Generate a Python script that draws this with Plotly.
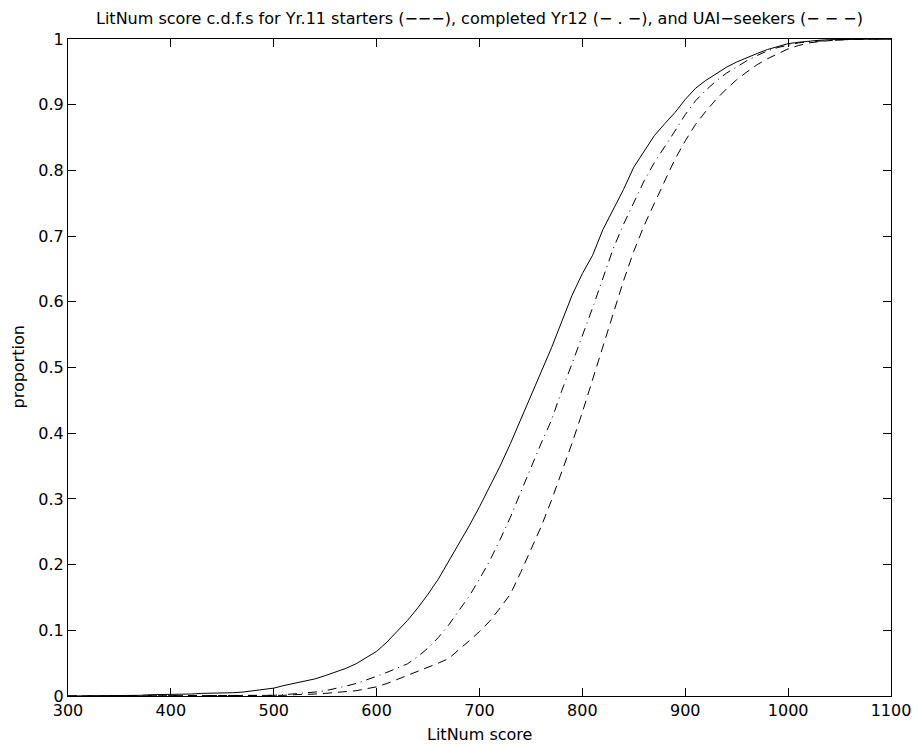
import plotly.graph_objects as go

scores = list(range(300, 1101, 10))

yr11_starters = [
    0.000, 0.000, 0.000, 0.001, 0.001, 0.001, 0.001, 0.001, 0.002, 0.002,  # 300-390
    0.002, 0.003, 0.003, 0.004, 0.004, 0.005, 0.005, 0.006, 0.008, 0.010,  # 400-490
    0.012, 0.016, 0.019, 0.022, 0.026, 0.031, 0.036, 0.042, 0.049, 0.058,  # 500-590
    0.068, 0.082, 0.098, 0.115, 0.134, 0.155, 0.178, 0.205, 0.231, 0.259,  # 600-690
    0.288, 0.318, 0.350, 0.384, 0.420, 0.456, 0.492, 0.530, 0.570, 0.610,  # 700-790
    0.643, 0.671, 0.710, 0.740, 0.771, 0.805, 0.830, 0.853, 0.871, 0.888,  # 800-890
    0.908, 0.925, 0.937, 0.947, 0.957, 0.965, 0.972, 0.978, 0.984, 0.989,  # 900-990
    0.993, 0.995, 0.997, 0.998, 0.999, 0.999, 1.000, 1.000, 1.000, 1.000,  # 1000-1090
    1.000,
]

completed_yr12 = [
    0.000, 0.000, 0.000, 0.000, 0.000, 0.000, 0.000, 0.000, 0.000, 0.000,  # 300-390
    0.000, 0.000, 0.000, 0.000, 0.000, 0.000, 0.000, 0.001, 0.001, 0.001,  # 400-490
    0.001, 0.002, 0.003, 0.004, 0.006, 0.008, 0.011, 0.015, 0.019, 0.024,  # 500-590
    0.030, 0.036, 0.042, 0.049, 0.060, 0.073, 0.089, 0.108, 0.130, 0.152,  # 600-690
    0.178, 0.206, 0.238, 0.272, 0.310, 0.348, 0.385, 0.420, 0.465, 0.506,  # 700-790
    0.548, 0.591, 0.636, 0.681, 0.718, 0.752, 0.784, 0.812, 0.835, 0.860,  # 800-890
    0.885, 0.906, 0.922, 0.936, 0.948, 0.958, 0.967, 0.975, 0.982, 0.987,  # 900-990
    0.991, 0.994, 0.996, 0.997, 0.998, 0.999, 0.999, 1.000, 1.000, 1.000,  # 1000-1090
    1.000,
]

uai_seekers = [
    0.000, 0.000, 0.000, 0.000, 0.000, 0.000, 0.000, 0.000, 0.000, 0.000,  # 300-390
    0.000, 0.000, 0.000, 0.000, 0.000, 0.000, 0.000, 0.000, 0.000, 0.000,  # 400-490
    0.000, 0.001, 0.002, 0.002, 0.003, 0.004, 0.005, 0.006, 0.008, 0.011,  # 500-590
    0.014, 0.019, 0.025, 0.031, 0.037, 0.043, 0.050, 0.057, 0.070, 0.084,  # 600-690
    0.098, 0.114, 0.134, 0.155, 0.188, 0.222, 0.258, 0.298, 0.340, 0.385,  # 700-790
    0.432, 0.482, 0.532, 0.583, 0.632, 0.677, 0.716, 0.750, 0.784, 0.817,  # 800-890
    0.845, 0.870, 0.890, 0.908, 0.924, 0.938, 0.950, 0.961, 0.970, 0.978,  # 900-990
    0.985, 0.990, 0.994, 0.996, 0.998, 0.999, 0.999, 1.000, 1.000, 1.000,  # 1000-1090
    1.000,
]

x_ticks = [300, 400, 500, 600, 700, 800, 900, 1000, 1100]
y_ticks = [0, 0.1, 0.2, 0.3, 0.4, 0.5, 0.6, 0.7, 0.8, 0.9, 1]
y_tick_labels = ["0", "0.1", "0.2", "0.3", "0.4", "0.5", "0.6", "0.7", "0.8", "0.9", "1"]

title_text = "LitNum score c.d.f.s for Yr.11 starters (−−−), completed Yr12 (− . −), and UAI−seekers (− − −)"
x_title = "LitNum score"
y_title = "proportion"

fig = go.Figure()
fig.add_trace(go.Scatter(x=scores, y=yr11_starters, mode="lines",
                         line=dict(color="black", width=1, dash="solid"),
                         name="Yr.11 starters"))
fig.add_trace(go.Scatter(x=scores, y=completed_yr12, mode="lines",
                         line=dict(color="black", width=1, dash="9px,5px,1px,5px"),
                         name="completed Yr12"))
fig.add_trace(go.Scatter(x=scores, y=uai_seekers, mode="lines",
                         line=dict(color="black", width=1, dash="9px,6px"),
                         name="UAI-seekers"))

font_family = "DejaVu Sans, Liberation Sans, Arial, sans-serif"
fsize = 16

# the page body has an 8px margin, so the figure is sized to fit the window
fig_w, fig_h = 915, 738

fig.update_layout(
    width=fig_w, height=fig_h,
    margin=dict(l=60, r=22, t=31, b=50),
    paper_bgcolor="white", plot_bgcolor="white",
    showlegend=False,
    font=dict(family=font_family, size=fsize, color="black"),
    title=dict(text=title_text, x=0.5, xanchor="center", xref="paper",
               y=1 - 10 / fig_h, yanchor="middle",
               font=dict(size=fsize, family=font_family, color="black")),
    annotations=[
        dict(text=x_title, xref="paper", yref="paper", x=0.5, y=0,
             xanchor="center", yanchor="middle", yshift=-38, showarrow=False,
             font=dict(size=fsize, family=font_family, color="black")),
        dict(text=y_title, xref="paper", yref="paper", x=0, y=0.5,
             xanchor="center", yanchor="middle", xshift=-50, textangle=-90,
             showarrow=False, font=dict(size=fsize, family=font_family, color="black")),
    ],
)
fig.update_xaxes(
    range=[300, 1100], tickvals=x_ticks, ticktext=[str(v) for v in x_ticks],
    ticks="inside", ticklen=8, tickcolor="black", tickwidth=1,
    showline=True, linecolor="black", linewidth=1, mirror="ticks",
    showgrid=False, zeroline=False, ticklabelstandoff=0,
    tickfont=dict(size=fsize),
)
fig.update_yaxes(
    range=[0, 1], tickvals=y_ticks, ticktext=y_tick_labels,
    ticks="inside", ticklen=8, tickcolor="black", tickwidth=1,
    showline=True, linecolor="black", linewidth=1, mirror="ticks",
    showgrid=False, zeroline=False,
    tickfont=dict(size=fsize),
)

fig.write_html("out.html")
